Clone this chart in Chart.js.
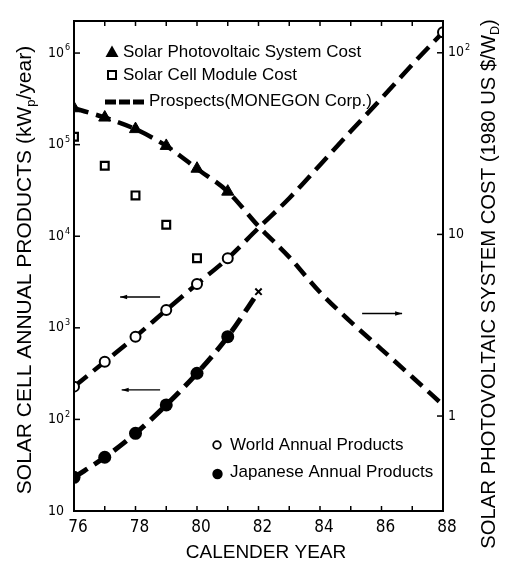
<!DOCTYPE html>
<html><head><meta charset="utf-8">
<script src="https://cdn.jsdelivr.net/npm/chart.js@4.4.1/dist/chart.umd.min.js"></script>
<style>html,body{margin:0;padding:0;background:#fff}#wrap{width:508px;height:565px;position:relative}</style>
</head><body><div id="wrap"><canvas id="c" width="508" height="565"></canvas></div>
<script>
// ---- data ----
const xTickYears = [76,77,78,79,80,81,82,83,84,85,86,87,88];
const systemCostYears = [76,77,78,79,80,81];
const systemCost = [49.5,44,38,30.7,23,17.2];            // 1980 US$/Wp (right axis)
const moduleCostYears = [76,77,78,79,80];
const moduleCost = [34.5,23.9,16.4,11.3,7.4];             // right axis
const costProspectYears = [76,77,78,79,80,81,82,83,84,85,86,87,88];
const costProspect = [49.5,44,38,30.7,23,17.2,11.1,7.5,4.8,3.3,2.33,1.64,1.15];
const worldYears = [76,77,78,79,80,81,88];
const worldProducts = [228,427,800,1565,3010,5740,1690000]; // kWp/year (left axis)
const worldProspectYears = [76,77,78,79,80,81,82,83,84,85,86,87,88];
const worldProspect = [228,427,800,1565,3010,5740,12300,26000,60000,140000,320000,750000,1690000];
const japanYears = [76,77,78,79,80,81];
const japanProducts = [23.3,38.6,70.5,144,319,800];
const japanProspectYears = [76,77,78,79,80,81,82];
const japanProspect = [23.3,38.6,70.5,144,319,800,2480];
const japanCrossYears = [82];
const japanCross = [2480];
const leftTicks = [10,100,1000,10000,100000,1000000];
const leftTickSup = ['','2','3','4','5','6'];
const rightTicks = [1,10,100];
const rightTickSup = ['','','2'];
const arrowsLeft = [ {from:[78.8,2170], to:[77.5,2170]}, {from:[78.8,210], to:[77.55,210]} ];
const arrowsRight = [ {from:[85.37,3.67], to:[86.67,3.67]} ];

const leftMin = 10, leftMax = Math.pow(10, 6.35);
const rightMin = Math.sqrt(leftMin)/10, rightMax = Math.sqrt(leftMax)/10;

const SANS = "'Liberation Sans', Arial, Helvetica, sans-serif";
const NARROW = "'Liberation Sans Narrow', 'Arial Narrow', 'DejaVu Sans Condensed', sans-serif";

const pts = (xs, ys) => xs.map((x,i)=>({x:x, y:ys[i]}));

function drawParts(ctx, parts, size, x, y, align) {
  let w = 0;
  const widths = parts.map(p => {
    ctx.font = (p.sub ? size*0.62 : size) + 'px ' + SANS;
    const m = ctx.measureText(p.t).width; w += m; return m;
  });
  let cx = align === 'center' ? x - w/2 : x;
  parts.forEach((p,i) => {
    ctx.font = (p.sub ? size*0.62 : size) + 'px ' + SANS;
    ctx.fillText(p.t, cx, y + (p.sub ? size*0.3 : 0));
    cx += widths[i];
  });
}

const deco = {
  id: 'deco',
  afterDraw(chart) {
    const ctx = chart.ctx, ca = chart.chartArea;
    const xs = chart.scales.x, yl = chart.scales.y, yr = chart.scales.y2;
    ctx.save();
    ctx.strokeStyle = '#000'; ctx.fillStyle = '#000';
    ctx.lineWidth = 2;
    ctx.strokeRect(ca.left, ca.top, ca.right - ca.left, ca.bottom - ca.top);
    ctx.lineWidth = 1.5;
    xTickYears.forEach(v => {
      const px = xs.getPixelForValue(v);
      ctx.beginPath(); ctx.moveTo(px, ca.bottom); ctx.lineTo(px, ca.bottom - 5); ctx.stroke();
      ctx.beginPath(); ctx.moveTo(px, ca.top); ctx.lineTo(px, ca.top + 5); ctx.stroke();
    });
    ctx.textBaseline = 'middle'; ctx.textAlign = 'left';
    leftTicks.forEach((v,i) => {
      const py = yl.getPixelForValue(v);
      ctx.lineWidth = 1.5;
      ctx.beginPath(); ctx.moveTo(ca.left, py); ctx.lineTo(ca.left + 6, py); ctx.stroke();
      ctx.font = '14px ' + NARROW;
      ctx.fillText('10', ca.left - 26, py);
      const w = ctx.measureText('10').width;
      if (leftTickSup[i]) { ctx.font = '9px ' + NARROW; ctx.fillText(leftTickSup[i], ca.left - 26 + w + 1, py - 5); }
    });
    rightTicks.forEach((v,i) => {
      const py = yr.getPixelForValue(v);
      ctx.lineWidth = 1.5;
      ctx.beginPath(); ctx.moveTo(ca.right - 6, py); ctx.lineTo(ca.right, py); ctx.stroke();
      ctx.font = '14px ' + NARROW;
      const lab = String(rightTickSup[i] ? 10 : v);
      ctx.fillText(lab, ca.right + 5, py);
      const w = ctx.measureText(lab).width;
      if (rightTickSup[i]) { ctx.font = '9px ' + NARROW; ctx.fillText(rightTickSup[i], ca.right + 5 + w + 1, py - 5); }
    });
    ctx.lineWidth = 1.4;
    const arrow = (x1,y1,x2,y2) => {
      ctx.beginPath(); ctx.moveTo(x1,y1); ctx.lineTo(x2,y2); ctx.stroke();
      const d = x2 > x1 ? -1 : 1;
      ctx.beginPath(); ctx.moveTo(x2, y2); ctx.lineTo(x2 + d*7, y2 - 2.2); ctx.lineTo(x2 + d*7, y2 + 2.2); ctx.closePath(); ctx.fill();
    };
    arrowsLeft.forEach(a => arrow(xs.getPixelForValue(a.from[0]), yl.getPixelForValue(a.from[1]), xs.getPixelForValue(a.to[0]), yl.getPixelForValue(a.to[1])));
    arrowsRight.forEach(a => arrow(xs.getPixelForValue(a.from[0]), yr.getPixelForValue(a.from[1]), xs.getPixelForValue(a.to[0]), yr.getPixelForValue(a.to[1])));

    ctx.textBaseline = 'middle'; ctx.textAlign = 'left';
    ctx.font = '17px ' + SANS;
    ctx.beginPath(); ctx.moveTo(112, 45.5); ctx.lineTo(118.5, 57); ctx.lineTo(105.5, 57); ctx.closePath(); ctx.fill();
    ctx.fillText('Solar Photovoltaic System Cost', 123, 52);
    ctx.lineWidth = 2; ctx.strokeRect(108, 71, 8, 8);
    ctx.fillText('Solar Cell Module Cost', 123, 75.5);
    ctx.lineWidth = 5; ctx.setLineDash([11,3]);
    ctx.beginPath(); ctx.moveTo(105, 102); ctx.lineTo(147, 102); ctx.stroke();
    ctx.setLineDash([]);
    ctx.fillText('Prospects(MONEGON Corp.)', 149, 101.5);
    ctx.lineWidth = 1.8;
    ctx.beginPath(); ctx.arc(217, 445, 3.8, 0, Math.PI*2); ctx.stroke();
    ctx.fillText('World Annual Products', 230, 445);
    ctx.beginPath(); ctx.arc(217.5, 474, 5.2, 0, Math.PI*2); ctx.fill();
    ctx.fillText('Japanese Annual Products', 230, 472);

    ctx.save();
    ctx.translate(25, 270); ctx.rotate(-Math.PI/2);
    drawParts(ctx, [{t:'SOLAR CELL ANNUAL PRODUCTS (kW'},{t:'p',sub:true},{t:'/year)'}], 21, 0, 0, 'center');
    ctx.restore();
    ctx.save();
    ctx.translate(489, 284); ctx.rotate(-Math.PI/2);
    drawParts(ctx, [{t:'SOLAR PHOTOVOLTAIC SYSTEM COST (1980 US $/W'},{t:'D',sub:true},{t:')'}], 20.3, 0, 0, 'center');
    ctx.restore();
    ctx.font = '19px ' + SANS; ctx.textAlign = 'center';
    ctx.fillText('CALENDER YEAR', 266, 553);
    ctx.restore();
  }
};

new Chart(document.getElementById('c'), {
  type: 'line',
  data: {
    datasets: [
      { data: pts(costProspectYears, costProspect), yAxisID: 'y2', borderColor:'#000', borderWidth:4.5, borderDash:[15,8], pointRadius:0, cubicInterpolationMode:'monotone', fill:false, order:5 },
      { data: pts(worldProspectYears, worldProspect), yAxisID: 'y', borderColor:'#000', borderWidth:4.5, borderDash:[17,8], pointRadius:0, cubicInterpolationMode:'monotone', fill:false, order:5 },
      { data: pts(japanProspectYears, japanProspect), yAxisID: 'y', borderColor:'#000', borderWidth:5, borderDash:[16,8], pointRadius:0, cubicInterpolationMode:'monotone', fill:false, order:5 },
      { data: pts(systemCostYears, systemCost), yAxisID: 'y2', showLine:false, pointStyle:'triangle', pointRadius:7, pointBackgroundColor:'#000', pointBorderColor:'#000', pointBorderWidth:1, order:0 },
      { data: pts(moduleCostYears, moduleCost), yAxisID: 'y2', showLine:false, pointStyle:'rect', pointRadius:5.5, pointBackgroundColor:'#fff', pointBorderColor:'#000', pointBorderWidth:2.2, order:0 },
      { data: pts(worldYears, worldProducts), yAxisID: 'y', showLine:false, pointStyle:'circle', pointRadius:5, pointBackgroundColor:'#fff', pointBorderColor:'#000', pointBorderWidth:2, order:0 },
      { data: pts(japanYears, japanProducts), yAxisID: 'y', showLine:false, pointStyle:'circle', pointRadius:6.5, pointBackgroundColor:'#000', pointBorderColor:'#000', pointBorderWidth:0, order:0 },
      { data: pts(japanCrossYears, japanCross), yAxisID: 'y', showLine:false, pointStyle:'crossRot', pointRadius:4.5, pointBorderColor:'#000', pointBorderWidth:2, order:0 }
    ]
  },
  options: {
    responsive: false, animation: false, devicePixelRatio: 1,
    layout: { padding: { top: 21, left: 0, right: 0, bottom: 0 } },
    plugins: { legend: { display:false }, tooltip: { enabled:false } },
    elements: { point: { hoverRadius: 0 } },
    scales: {
      x: { type:'linear', position:'bottom', min:76, max:88,
           grid:{ display:false, drawTicks:false }, border:{ display:false },
           ticks:{ stepSize:1, autoSkip:false, maxRotation:0, padding:6, labelOffset:4, color:'#000',
                   font:{ family:NARROW, size:17 }, callback:(v)=> (v % 2 === 0 ? String(v) : '') },
           afterBuildTicks: s => { s.ticks = xTickYears.map(v => ({value:v})); },
           afterFit: s => { s.height = 54; } },
      y: { type:'logarithmic', position:'left', min:leftMin, max:leftMax,
           grid:{ display:false }, border:{ display:false }, ticks:{ display:false },
           afterBuildTicks: s => { s.ticks = leftTicks.map(v => ({value:v})); },
           afterFit: s => { s.width = 74; } },
      y2: { type:'logarithmic', position:'right', min:rightMin, max:rightMax,
           grid:{ display:false }, border:{ display:false }, ticks:{ display:false },
           afterBuildTicks: s => { s.ticks = rightTicks.map(v => ({value:v})); },
           afterFit: s => { s.width = 65; } }
    }
  },
  plugins: [deco]
});
</script>
</body></html>
